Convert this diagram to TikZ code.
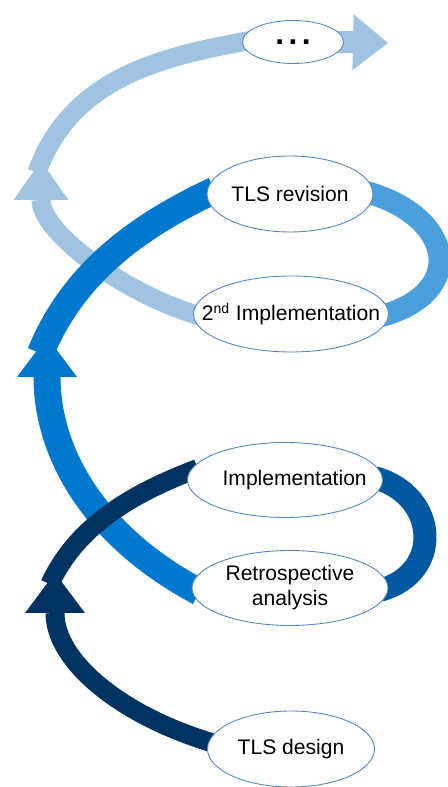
\documentclass[tikz,border=0pt]{standalone}
\usepackage{fontspec}
\setmainfont{Liberation Sans}
\usetikzlibrary{arrows.meta,backgrounds,shapes.geometric}

\definecolor{navy}{RGB}{0,51,97}
\definecolor{navyright}{RGB}{0,88,160}
\definecolor{midblue}{RGB}{0,120,208}
\definecolor{midright}{RGB}{74,159,220}
\definecolor{paleblue}{RGB}{160,195,226}
\definecolor{rimblue}{RGB}{84,135,192}

\newcommand{\phasetxt}[1]{\makebox[0pt]{#1}}

\begin{document}
\begin{tikzpicture}[x=0.02cm, y=0.02cm,
  phase/.style={ellipse, draw=rimblue, line width=0.5pt, fill=white, inner sep=0pt, font=\fontsize{12}{14.4}\selectfont},
  band/.style={line width=#1}]

\useasboundingbox (0,0) rectangle (448,787);

%%\draw[step=50, gray, very thin] (0,0) grid (448,787);

\node at (293,745) [phase, minimum width=2.02cm, minimum height=0.86cm] (more) {\phasetxt{\fontsize{18}{20}\selectfont\bfseries .\kern2.5pt.\kern2.5pt.}};
\node at (290,593) [phase, minimum width=3.32cm, minimum height=1.52cm] (revision) {\phasetxt{TLS revision}};
\node at (291,473) [phase, minimum width=3.9cm, minimum height=1.52cm] (impltwo) {\phasetxt{2\textsuperscript{nd} Implementation}};
\node at (285,307) [phase, minimum width=3.9cm, minimum height=1.5cm] (impl) {\phasetxt{\hspace{11pt}Implementation}};
\node at (290,199) [phase, minimum width=3.92cm, minimum height=1.5cm] (retro) {\phasetxt{\begin{tabular}{@{}c@{}}Retrospective\\ analysis\end{tabular}}};
\node at (291,38) [phase, minimum width=3.34cm, minimum height=1.52cm] (design) {\phasetxt{TLS design}};

\coordinate (navytip) at (55,214);
\coordinate (bluetip) at (47,450);
\coordinate (paletip) at (41,626);
\coordinate (endtip) at (388,744);

\begin{scope}[on background layer]
	%% third turn
	\draw [band=0.38cm, paleblue, shorten <=-5pt, -{Triangle[width=1.1cm, length=0.78cm, line width=0pt]}] (impltwo.west) to [out=164, in=-90, looseness=0.85] (paletip);
	\draw [band=0.38cm, paleblue, shorten <=-7pt, shorten >=-5pt] (paletip) to [out=70, in=190, looseness=0.95] (more.west);
	\draw [band=0.44cm, paleblue, shorten <=-5pt, -{Triangle[width=1.12cm, length=0.7cm, line width=0pt]}] (more.east) -- (endtip);
	\draw [band=0.44cm, midright, shorten <=-5pt, shorten >=-5pt] (revision.east) to [out=-15, in=15, looseness=1.75] (impltwo.east);
	%% second turn
	\draw [band=0.54cm, midblue, shorten <=-5pt, -{Triangle[width=1.2cm, length=0.8cm, line width=0pt]}] (retro.west) to [out=152, in=-90] (bluetip);
	\draw [band=0.54cm, midblue, shorten <=-10pt, shorten >=-5pt] (bluetip) to [out=68, in=205, looseness=0.85] (revision.west);
	\draw [band=0.46cm, navyright, shorten <=-5pt, shorten >=-5pt] (impl.east) to [out=-15, in=15, looseness=1.35] (retro.east);
	%% first turn
	\draw [band=0.38cm, navy, shorten <=-5pt, -{Triangle[width=1.2cm, length=0.8cm, line width=0pt]}] (design.175) to [out=164, in=-90] (navytip);
	\draw [band=0.38cm, navy, shorten <=-7pt, shorten >=-5pt] (navytip) to [out=65, in=201, looseness=0.85] (impl.175);
\end{scope}

\end{tikzpicture}
\end{document}
